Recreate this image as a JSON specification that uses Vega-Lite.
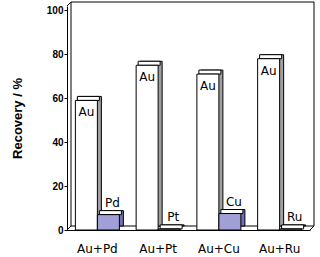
{
  "$schema": "https://vega.github.io/schema/vega-lite/v6.json",
  "autosize": "none",
  "padding": {"left": 67, "top": 6, "right": 10, "bottom": 27},
  "width": 243,
  "height": 224,
  "background": "white",
  "config": {"view": {"stroke": null}, "font": "DejaVu Sans"},
  "datasets": {
    "recovery": [
      {"pair": "Au+Pd", "role": "a", "metal": "Au", "value": 59},
      {"pair": "Au+Pd", "role": "b", "metal": "Pd", "value": 7},
      {"pair": "Au+Pt", "role": "a", "metal": "Au", "value": 75},
      {"pair": "Au+Pt", "role": "b", "metal": "Pt", "value": 0.5},
      {"pair": "Au+Cu", "role": "a", "metal": "Au", "value": 71},
      {"pair": "Au+Cu", "role": "b", "metal": "Cu", "value": 7.5},
      {"pair": "Au+Ru", "role": "a", "metal": "Au", "value": 78},
      {"pair": "Au+Ru", "role": "b", "metal": "Ru", "value": 0.5}
    ],
    "frame": [{"top": 102, "bottom": 0}]
  },
  "layer": [
    {
      "data": {"name": "frame"},
      "mark": {"type": "rect", "fill": "white", "stroke": "black", "strokeWidth": 1, "xOffset": 4, "x2Offset": 4, "yOffset": -4, "y2Offset": -4},
      "encoding": {"x": {"value": 0}, "x2": {"value": "width"}, "y": {"field": "top", "type": "quantitative"}, "y2": {"field": "bottom"}}
    },
    {
      "data": {"name": "frame"},
      "mark": {"type": "rule", "color": "black", "x2Offset": 4, "y2Offset": -4},
      "encoding": {"x": {"value": 0}, "x2": {"value": 0}, "y": {"field": "bottom", "type": "quantitative"}, "y2": {"field": "bottom"}}
    },
    {
      "data": {"name": "frame"},
      "mark": {"type": "rule", "color": "black", "x2Offset": 4, "y2Offset": -4},
      "encoding": {"x": {"value": 0}, "x2": {"value": 0}, "y": {"field": "top", "type": "quantitative"}, "y2": {"field": "top"}}
    },
    {
      "data": {"name": "frame"},
      "mark": {"type": "rule", "color": "black", "x2Offset": 4, "y2Offset": -4},
      "encoding": {"x": {"value": "width"}, "x2": {"value": "width"}, "y": {"field": "bottom", "type": "quantitative"}, "y2": {"field": "bottom"}}
    },
    {
      "data": {"name": "recovery"},
      "layer": [
        {
          "transform": [{"filter": "datum.role === 'a'"}],
          "mark": {"type": "bar", "width": 22, "fill": "#a0a0a0", "stroke": "black", "strokeWidth": 1, "xOffset": -7, "yOffset": -4, "y2Offset": -4},
          "encoding": {
            "x": {"field": "pair", "type": "nominal", "sort": null,
              "scale": {"paddingInner": 0, "paddingOuter": 0},
              "axis": {"title": null, "labelAngle": 0, "ticks": false, "labelPadding": 13, "labelFontSize": 12, "labelColor": "black", "labelFont": "DejaVu Sans", "domainColor": "black"}},
            "y": {"field": "value", "type": "quantitative",
              "scale": {"domain": [0, 102], "nice": false},
              "axis": {"values": [0, 20, 40, 60, 80, 100], "title": "Recovery / %", "titleFont": "Liberation Sans", "titleFontWeight": "bold", "titleFontSize": 13, "titleColor": "black", "titlePadding": 22,
                "labelFont": "Liberation Sans", "labelFontWeight": "bold", "labelFontSize": 10, "labelColor": "black", "labelPadding": 1, "tickSize": 3, "tickColor": "black", "domainColor": "black", "grid": false}}
          }
        },
        {
          "transform": [{"filter": "datum.role === 'a'"}],
          "mark": {"type": "bar", "width": 22, "fill": "white", "stroke": "black", "strokeWidth": 1, "xOffset": -9, "yOffset": -4, "y2Offset": 0},
          "encoding": {"x": {"field": "pair", "type": "nominal", "sort": null}, "y": {"field": "value", "type": "quantitative"}, "y2": {"field": "value"}}
        },
        {
          "transform": [{"filter": "datum.role === 'a'"}],
          "mark": {"type": "bar", "width": 22, "fill": "white", "stroke": "black", "strokeWidth": 1, "xOffset": -11},
          "encoding": {"x": {"field": "pair", "type": "nominal", "sort": null}, "y": {"field": "value", "type": "quantitative"}}
        },
        {
          "transform": [{"filter": "datum.role === 'b'"}],
          "mark": {"type": "bar", "width": 22, "fill": "#7070b4", "stroke": "black", "strokeWidth": 1, "xOffset": 15, "yOffset": -4, "y2Offset": -4},
          "encoding": {"x": {"field": "pair", "type": "nominal", "sort": null}, "y": {"field": "value", "type": "quantitative"}}
        },
        {
          "transform": [{"filter": "datum.role === 'b'"}],
          "mark": {"type": "bar", "width": 22, "fill": "white", "stroke": "black", "strokeWidth": 1, "xOffset": 13, "yOffset": -4, "y2Offset": 0},
          "encoding": {"x": {"field": "pair", "type": "nominal", "sort": null}, "y": {"field": "value", "type": "quantitative"}, "y2": {"field": "value"}}
        },
        {
          "transform": [{"filter": "datum.role === 'b'"}],
          "mark": {"type": "bar", "width": 22, "fill": "#a0a0d6", "stroke": "black", "strokeWidth": 1, "xOffset": 11},
          "encoding": {"x": {"field": "pair", "type": "nominal", "sort": null}, "y": {"field": "value", "type": "quantitative"}}
        },
        {
          "transform": [{"filter": "datum.role === 'a'"}],
          "mark": {"type": "text", "dx": -11, "dy": 12, "baseline": "middle", "align": "center", "fontSize": 12, "font": "DejaVu Sans", "color": "black"},
          "encoding": {"x": {"field": "pair", "type": "nominal", "sort": null}, "y": {"field": "value", "type": "quantitative"}, "text": {"field": "metal"}}
        },
        {
          "transform": [{"filter": "datum.role === 'b'"}],
          "mark": {"type": "text", "dx": 15, "dy": -12, "baseline": "middle", "align": "center", "fontSize": 12, "font": "DejaVu Sans", "color": "black"},
          "encoding": {"x": {"field": "pair", "type": "nominal", "sort": null}, "y": {"field": "value", "type": "quantitative"}, "text": {"field": "metal"}}
        }
      ]
    }
  ]
}
